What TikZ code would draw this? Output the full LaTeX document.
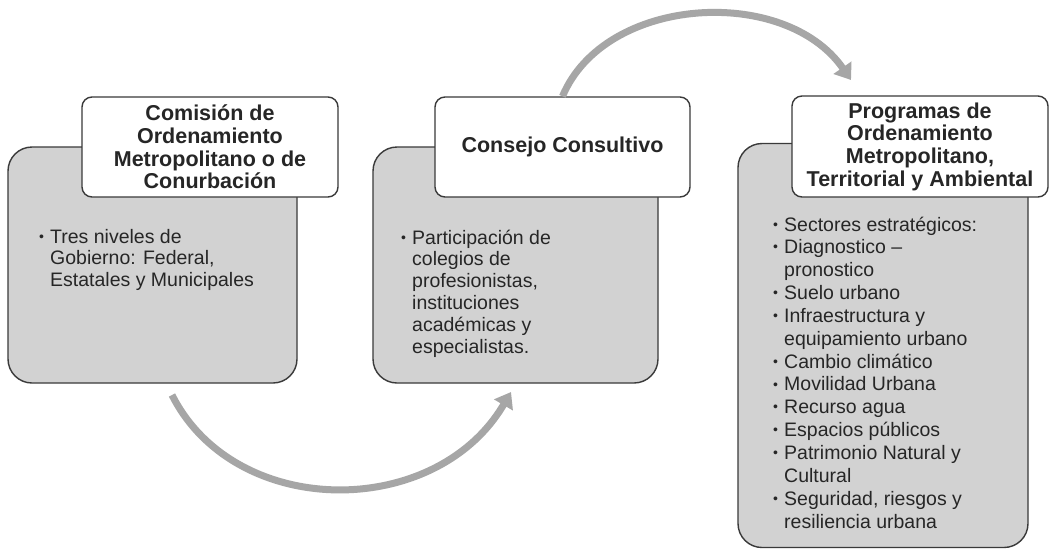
\documentclass[tikz,border=0pt]{standalone}
\usepackage{fontspec}
\setmainfont{Liberation Sans}
\usetikzlibrary{arrows.meta}
\definecolor{boxgray}{HTML}{D2D2D2}
\definecolor{edgec}{HTML}{3A3A3A}
\definecolor{arrowgray}{HTML}{A6A6A6}
\definecolor{txt}{HTML}{262626}
\newcommand\bul{\makebox[11pt][l]{\raisebox{0.1em}{\fontsize{14}{14}\selectfont\textbullet}}}
\newcommand\itm[1]{\par\hangindent=11pt\hangafter=1\noindent\bul#1}
\begin{document}
\begin{tikzpicture}[x=1pt,y=-1pt,
  graybox/.style={draw=edgec, line width=1.4pt, fill=boxgray, rounded corners=24pt, inner sep=0pt},
  titlebox/.style={draw=edgec, line width=1.4pt, fill=white, rounded corners=10pt, inner sep=0pt,
     align=center, text=txt, font=\fontsize{21.5}{22.7}\selectfont\bfseries},
  bodytext/.style={inner sep=0pt, anchor=base west, text=txt},
  flow/.style={draw=arrowgray, line width=7pt, -{Triangle[length=15pt,width=21pt]}}]
\useasboundingbox (0,0) rectangle (1052,550);
\fill[white] (0,0) rectangle (1052,550);
% gray boxes
\node[graybox, minimum width=289pt, minimum height=236pt] (g1) at (152.5,265) {};
\node[graybox, minimum width=285pt, minimum height=236pt] (g2) at (515.5,265) {};
\node[graybox, minimum width=290pt, minimum height=404pt] (g3) at (883,345.5) {};
% title boxes
\node[titlebox, minimum width=256pt, minimum height=100pt] (t1) at (210,147)
  {Comisión de\\Ordenamiento\\Metropolitano o de\\Conurbación};
\node[titlebox, minimum width=255pt, minimum height=100pt] (t2) at (562.5,147)
  {Consejo Consultivo};
\node[titlebox, minimum width=256pt, minimum height=101pt] (t3) at (920,146.5)
  {Programas de\\Ordenamiento\\Metropolitano,\\Territorial y Ambiental};
% body texts
\node[bodytext] (b1) at (39,243) {\parbox[t]{250pt}{\raggedright\fontsize{19.5}{21.5}\selectfont
  \itm{Tres niveles de\newline Gobierno: Federal,\newline Estatales y Municipales}}};
\node[bodytext] (b2) at (401,244) {\parbox[t]{240pt}{\raggedright\fontsize{19.5}{21.8}\selectfont
  \itm{Participación de\newline colegios de\newline profesionistas,\newline instituciones\newline académicas y\newline especialistas.}}};
\node[bodytext] (b3) at (773,231) {\parbox[t]{250pt}{\raggedright\fontsize{19.5}{22.85}\selectfont
  \itm{Sectores estratégicos:}
  \itm{Diagnostico –\newline pronostico}
  \itm{Suelo urbano}
  \itm{Infraestructura y\newline equipamiento urbano}
  \itm{Cambio climático}
  \itm{Movilidad Urbana}
  \itm{Recurso agua}
  \itm{Espacios públicos}
  \itm{Patrimonio Natural y\newline Cultural}
  \itm{Seguridad, riesgos y\newline resiliencia urbana}}};
% arrows
\coordinate (s1) at (172,395);
\coordinate (e2) at (511,392);
\coordinate (e3) at (851,80);
\draw[flow] (s1) .. controls (235,520) and (436,520) .. (e2);
\draw[flow] (t2.north) .. controls (605,-5) and (785,-15) .. (e3);
\end{tikzpicture}
\end{document}
